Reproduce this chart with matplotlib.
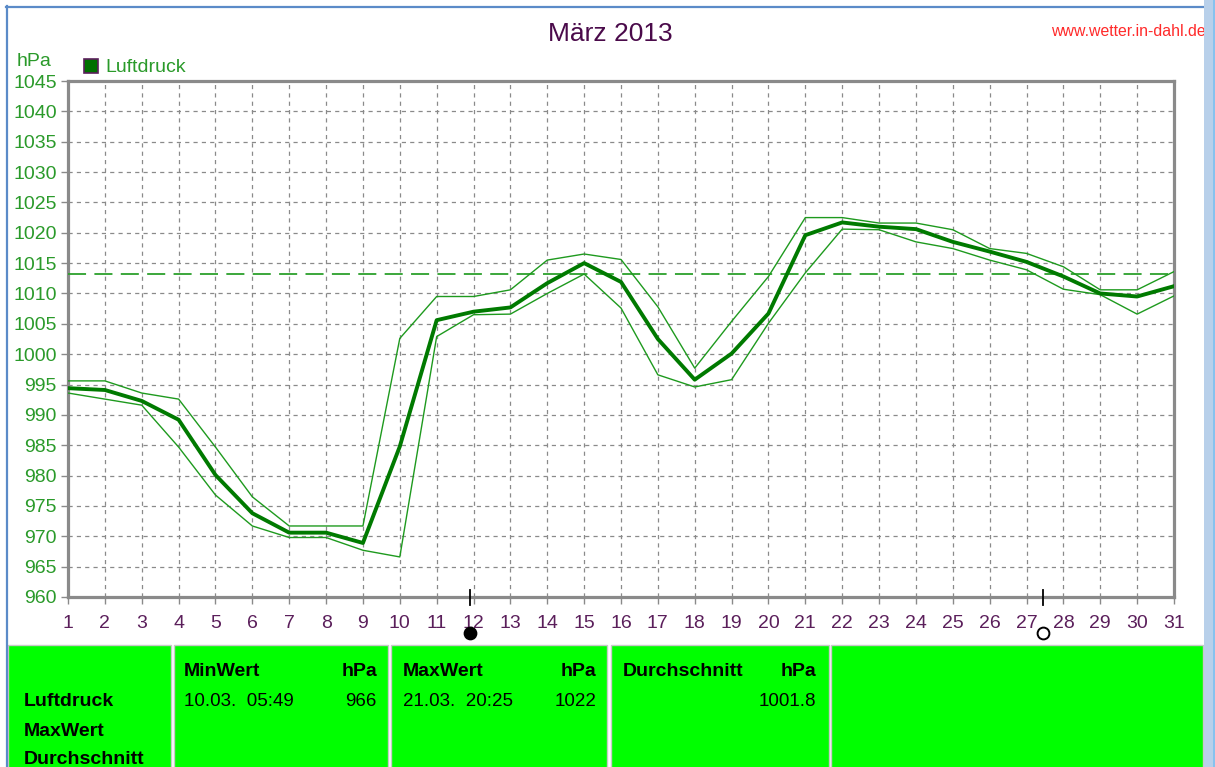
import matplotlib
matplotlib.use("Agg")
import matplotlib.pyplot as plt
from matplotlib.patches import Rectangle
from matplotlib.lines import Line2D
from matplotlib import font_manager as fm
import matplotlib.transforms as mtransforms

# ---------------- data ----------------
days = list(range(1, 32))
mean_p = [994.4, 994.1, 992.3, 989.2, 980.1, 973.8, 970.6, 970.6, 968.9, 984.8,
          1005.6, 1007.0, 1007.7, 1011.7, 1015.0, 1011.9, 1002.5, 995.8, 1000.1, 1006.7,
          1019.6, 1021.7, 1021.0, 1020.6, 1018.5, 1016.9, 1015.2, 1012.8, 1010.0, 1009.5, 1011.2]
max_p = [995.6, 995.6, 993.6, 992.6, 984.7, 976.5, 971.7, 971.7, 971.7, 1002.6,
         1009.5, 1009.5, 1010.6, 1015.5, 1016.5, 1015.6, 1007.8, 997.7, 1005.4, 1012.8,
         1022.5, 1022.5, 1021.6, 1021.6, 1020.5, 1017.4, 1016.6, 1014.4, 1010.6, 1010.6, 1013.6]
min_p = [993.6, 992.6, 991.6, 984.7, 976.8, 971.7, 969.8, 969.8, 967.7, 966.6,
         1002.9, 1006.5, 1006.6, 1010.0, 1013.2, 1007.6, 996.6, 994.6, 995.8, 1005.1,
         1013.4, 1020.6, 1020.5, 1018.5, 1017.4, 1015.5, 1013.9, 1010.7, 1009.8, 1006.6, 1009.6]
ref_pressure = 1013.25
y_ticks = list(range(960, 1046, 5))
new_moon_day = 11.9
full_moon_day = 27.45

title = "März 2013"
site = "www.wetter.in-dahl.de"
row_labels = ["Luftdruck", "MaxWert", "Durchschnitt"]
min_hdr, min_date, min_val = "MinWert", "10.03.  05:49", "966"
max_hdr, max_date, max_val = "MaxWert", "21.03.  20:25", "1022"
avg_hdr, avg_val = "Durchschnitt", "1001.8"

# ---------------- style ----------------
plt.rcParams['lines.scale_dashes'] = False
avail = {f.name for f in fm.fontManager.ttflist}
narrow = 'Liberation Sans Narrow' if 'Liberation Sans Narrow' in avail else None
base = 'Liberation Sans'
num_font = narrow if narrow else base
num_size = 15.5 if narrow else 14
plt.rcParams['font.family'] = [base, 'DejaVu Sans']

W, H = 1215, 767
fig = plt.figure(figsize=(W / 100, H / 100), dpi=100)
fig.patch.set_facecolor('white')


def fx(px):
    return px / W


def fy(py):
    return 1 - py / H


L, R, T, B = 68, 1174, 81, 597
ax = fig.add_axes([fx(L), fy(B), (R - L) / W, (B - T) / H])
ax.set_xlim(1, 31)
ax.set_ylim(960, 1045)
ax.set_xticks(days)
ax.set_yticks(y_ticks)
ax.set_xticklabels([str(d) for d in days], fontfamily=num_font, fontsize=num_size, color='#5B1F5B')
ax.set_yticklabels([str(v) for v in y_ticks], fontfamily=num_font, fontsize=num_size, color='#2A9A2A')
ax.tick_params(axis='both', colors='#8A8A8A', length=5, width=1)
ax.tick_params(axis='x', labelcolor='#5B1F5B', pad=8)
ax.tick_params(axis='y', labelcolor='#2A9A2A', pad=3)
ax.grid(True, color='#8A8A8A', linestyle=(0, (3, 3)), linewidth=0.9)
for s in ax.spines.values():
    s.set_color('#8A8A8A')
    s.set_linewidth(2.3)

ax.axhline(ref_pressure, color='#2CA02C', linewidth=1.3, linestyle=(0, (13, 6)), zorder=3)
ax.plot(days, max_p, color='#1E9A1E', linewidth=1.0, zorder=4)
ax.plot(days, min_p, color='#1E9A1E', linewidth=1.0, zorder=4)
ax.plot(days, mean_p, color='#007A00', linewidth=2.8, zorder=5)

# moon phase markers
trans = mtransforms.blended_transform_factory(ax.transData, ax.transAxes)
for d, filled in [(new_moon_day, True), (full_moon_day, False)]:
    ax.add_line(Line2D([d, d], [0.014, -0.016], transform=trans, color='black',
                       linewidth=1.3, clip_on=False, zorder=6))
    ax.plot([d], [-0.07], transform=trans, marker='o', markersize=8.5,
            markerfacecolor='black' if filled else 'white', markeredgecolor='black',
            markeredgewidth=1.4, clip_on=False, zorder=6)

# titles / labels
fig.text(fx(610), fy(34), title, ha='center', va='center', fontsize=19, color='#4A0A4A')
fig.text(fx(1206), fy(31), site, ha='right', va='center', fontsize=11.4, color='#FF2A2A')
fig.text(fx(17), fy(61), "hPa", ha='left', va='center', fontsize=14, color='#2A9A2A')
fig.add_artist(Rectangle((fx(84), fy(73)), 14 / W, 14 / H, transform=fig.transFigure,
                         facecolor='#007000', edgecolor='#5B1F5B', linewidth=1.2))
fig.text(fx(105), fy(67), "Luftdruck", ha='left', va='center', fontsize=14, color='#2A9A2A')

# table cells
cells = [(8, 171), (174, 388), (391, 607), (611, 829), (831, 1203)]
top_t = 645
for x0, x1 in cells:
    fig.add_artist(Rectangle((fx(x0), fy(H + 5)), (x1 - x0) / W, (H + 5 - top_t) / H,
                             transform=fig.transFigure, facecolor='#00FF00',
                             edgecolor='#C8C8C8', linewidth=1.0))

bold = dict(fontsize=14, fontweight='bold', color='black', va='center')
reg = dict(fontsize=13.5, color='black', va='center', fontfamily=num_font)
for lab, yy in zip(row_labels, [702, 731, 760]):
    fig.text(fx(24), fy(yy), lab, ha='left', **bold)
fig.text(fx(184), fy(672), min_hdr, ha='left', **bold)
fig.text(fx(377), fy(672), "hPa", ha='right', **bold)
fig.text(fx(184), fy(702), min_date, ha='left', **reg)
fig.text(fx(377), fy(702), min_val, ha='right', **reg)
fig.text(fx(403), fy(672), max_hdr, ha='left', **bold)
fig.text(fx(596), fy(672), "hPa", ha='right', **bold)
fig.text(fx(403), fy(702), max_date, ha='left', **reg)
fig.text(fx(596), fy(702), max_val, ha='right', **reg)
fig.text(fx(623), fy(672), avg_hdr, ha='left', **bold)
fig.text(fx(816), fy(672), "hPa", ha='right', **bold)
fig.text(fx(816), fy(702), avg_val, ha='right', **reg)

# window frame: blue border and scrollbar
fig.add_artist(Line2D([fx(7), fx(7)], [fy(6), 0], transform=fig.transFigure,
                      color='#5B8BC8', linewidth=1.6))
fig.add_artist(Line2D([fx(6), fx(1204)], [fy(7), fy(7)], transform=fig.transFigure,
                      color='#5B8BC8', linewidth=1.6))
fig.add_artist(Rectangle((fx(1204), 0), 11 / W, 1, transform=fig.transFigure,
                         facecolor='#B8D0EA', edgecolor='none', zorder=10))
fig.add_artist(Line2D([fx(1214), fx(1214)], [0, 1], transform=fig.transFigure,
                      color='#7FC0F0', linewidth=1.2, zorder=11))

fig.savefig('out.png', dpi=100)
